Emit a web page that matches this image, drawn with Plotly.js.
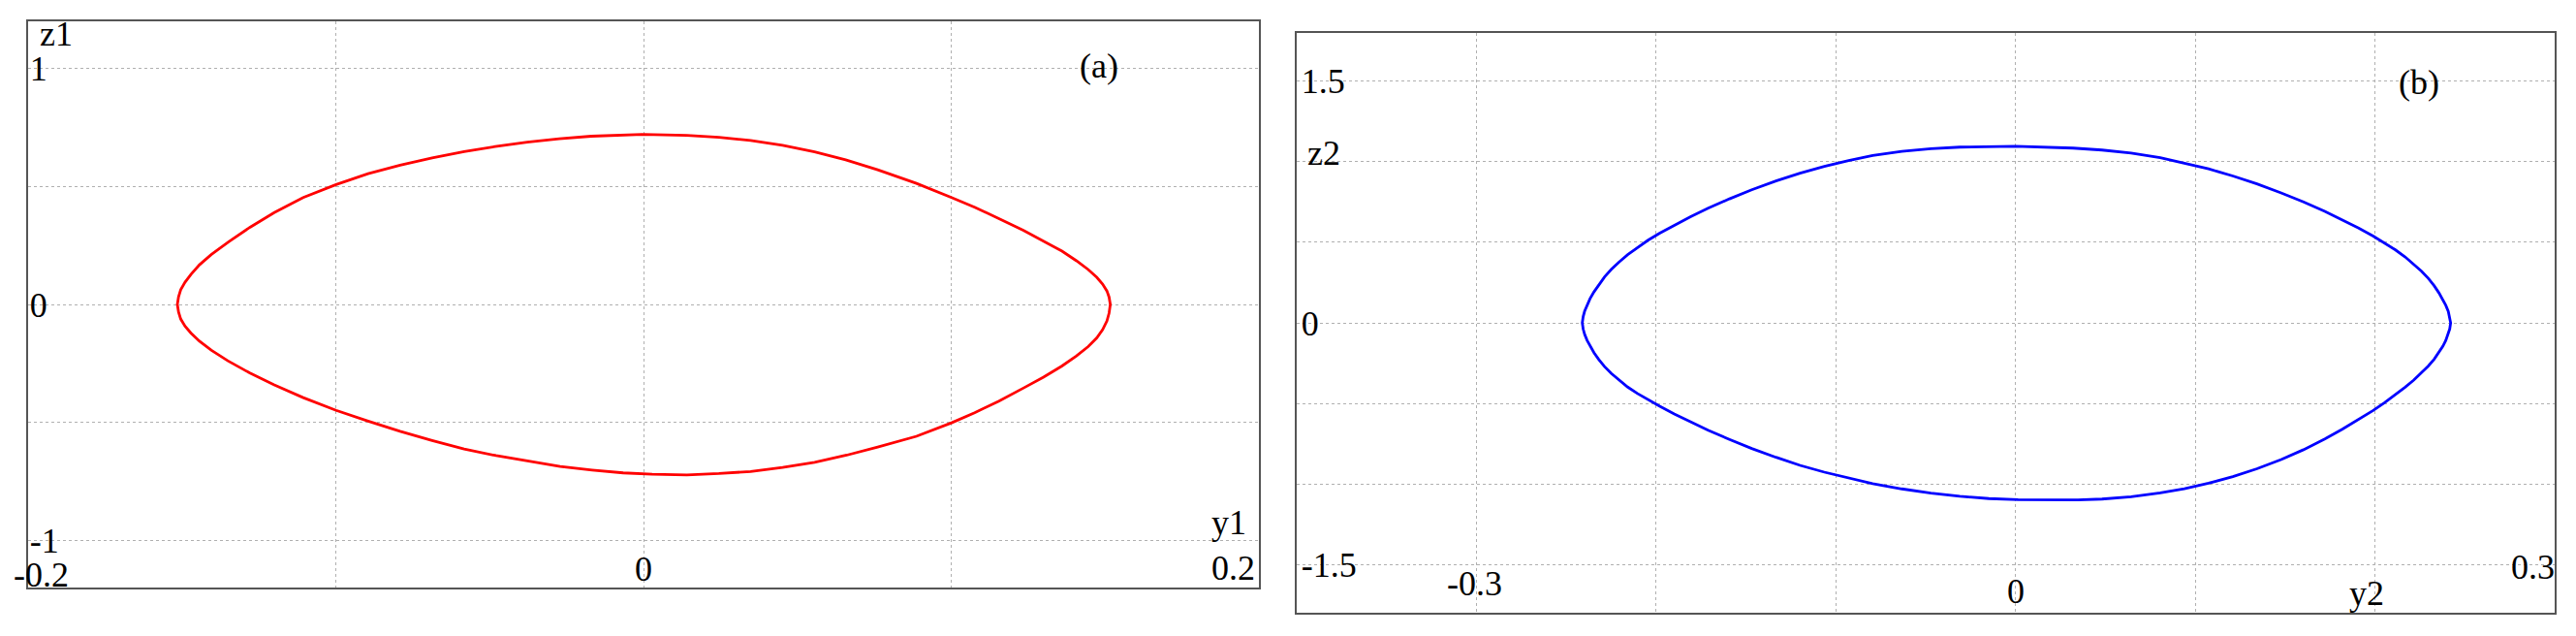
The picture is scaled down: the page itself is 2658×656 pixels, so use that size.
<!DOCTYPE html>
<html>
<head>
<meta charset="utf-8">
<script src="https://cdn.plot.ly/plotly-3.0.1.min.js"></script>
<style>
  html, body { margin: 0; padding: 0; background: #fff; }
  #chart { width: 2658px; height: 656px; }
</style>
</head>
<body>
<div id="chart"></div>
<script>
// phase trajectory (a): y1 / z1; closed loop from the top, anticlockwise
const y1_vals = [
  -0.0003, -0.0088, -0.0170, -0.0274, -0.0378, -0.0482, -0.0583, -0.0687, -0.0791, -0.0895, -0.0999,
  -0.1106, -0.1200, -0.1279, -0.1348, -0.1405, -0.1443, -0.1471, -0.1490, -0.1504, -0.1511, -0.1515,
  -0.1511, -0.1504, -0.1490, -0.1471, -0.1443, -0.1405, -0.1351, -0.1279, -0.1200, -0.1106, -0.0999,
  -0.0895, -0.0791, -0.0687, -0.0583, -0.0479, -0.0375, -0.0271, -0.0167, -0.0066, 0.0028, 0.0141,
  0.0245, 0.0348, 0.0452, 0.0556, 0.0660, 0.0761, 0.0887, 0.1001, 0.1076, 0.1155,
  0.1234, 0.1300, 0.1360, 0.1407, 0.1445, 0.1473, 0.1492, 0.1506, 0.1513, 0.1517,
  0.1513, 0.1506, 0.1492, 0.1473, 0.1445, 0.1407, 0.1360, 0.1300, 0.1234, 0.1155, 0.1076,
  0.1001, 0.0887, 0.0761, 0.0657, 0.0556, 0.0452, 0.0348, 0.0245, 0.0141, -0.0003];
const z1_vals = [
  0.721, 0.717, 0.713, 0.702, 0.688, 0.669, 0.648, 0.621, 0.590, 0.554, 0.508,
  0.453, 0.389, 0.327, 0.266, 0.211, 0.168, 0.127, 0.094, 0.062, 0.033, 0.000,
  -0.033, -0.062, -0.092, -0.121, -0.156, -0.194, -0.239, -0.291, -0.341, -0.395, -0.449,
  -0.495, -0.538, -0.577, -0.613, -0.641, -0.665, -0.687, -0.702, -0.714, -0.720, -0.723,
  -0.717, -0.708, -0.691, -0.669, -0.639, -0.605, -0.559, -0.502, -0.459, -0.410,
  -0.355, -0.308, -0.261, -0.218, -0.179, -0.142, -0.107, -0.070, -0.037, 0.000,
  0.031, 0.057, 0.086, 0.115, 0.148, 0.185, 0.226, 0.269, 0.314, 0.364, 0.412,
  0.453, 0.513, 0.571, 0.613, 0.647, 0.674, 0.695, 0.708, 0.717, 0.721];

// phase trajectory (b): y2 / z2
const y2_vals = [
  0.0000, -0.0148, -0.0310, -0.0471, -0.0633, -0.0795, -0.0929, -0.1064, -0.1199, -0.1333,
  -0.1468, -0.1592, -0.1711, -0.1808, -0.1899, -0.1980, -0.2045, -0.2104, -0.2158, -0.2206,
  -0.2249, -0.2287, -0.2319, -0.2346, -0.2368, -0.2384, -0.2398, -0.2406, -0.2411,
  -0.2406, -0.2398, -0.2384, -0.2368, -0.2346, -0.2319, -0.2287, -0.2249, -0.2206, -0.2158,
  -0.2104, -0.2045, -0.1980, -0.1899, -0.1808, -0.1711, -0.1592, -0.1468, -0.1333, -0.1199,
  -0.1064, -0.0929, -0.0795, -0.0633, -0.0471, -0.0310, -0.0148, 0.0014, 0.0225,
  0.0347, 0.0481, 0.0643, 0.0805, 0.0939, 0.1074, 0.1209, 0.1343, 0.1478, 0.1602,
  0.1721, 0.1818, 0.1909, 0.1990, 0.2055, 0.2114, 0.2168, 0.2216, 0.2259, 0.2297,
  0.2329, 0.2356, 0.2378, 0.2394, 0.2408, 0.2416, 0.2421,
  0.2416, 0.2408, 0.2394, 0.2378, 0.2356, 0.2329, 0.2297, 0.2259, 0.2216, 0.2168,
  0.2114, 0.2055, 0.1990, 0.1909, 0.1818, 0.1721, 0.1602, 0.1478, 0.1343, 0.1209,
  0.1074, 0.0939, 0.0805, 0.0643, 0.0481, 0.0320, 0.0158, 0.0000];
const z2_vals = [
  1.096, 1.095, 1.091, 1.081, 1.065, 1.039, 1.008, 0.972, 0.929, 0.881,
  0.826, 0.770, 0.712, 0.659, 0.607, 0.557, 0.513, 0.469, 0.424, 0.378,
  0.332, 0.285, 0.238, 0.192, 0.150, 0.112, 0.072, 0.039, 0.000,
  -0.038, -0.071, -0.109, -0.145, -0.185, -0.228, -0.272, -0.315, -0.357, -0.399,
  -0.439, -0.479, -0.518, -0.566, -0.617, -0.667, -0.724, -0.780, -0.835, -0.885,
  -0.927, -0.964, -0.998, -1.031, -1.057, -1.077, -1.091, -1.098, -1.100,
  -1.099, -1.094, -1.080, -1.056, -1.030, -0.996, -0.955, -0.906, -0.849, -0.788,
  -0.721, -0.661, -0.601, -0.544, -0.495, -0.447, -0.400, -0.355, -0.311, -0.268,
  -0.226, -0.184, -0.145, -0.109, -0.071, -0.038, 0.000,
  0.038, 0.071, 0.109, 0.145, 0.186, 0.231, 0.276, 0.321, 0.365, 0.409,
  0.453, 0.496, 0.539, 0.588, 0.640, 0.692, 0.751, 0.807, 0.863, 0.912,
  0.956, 0.993, 1.026, 1.054, 1.073, 1.085, 1.092, 1.096];

// tick labels
const z1_tickvals = [-1, -0.5, 0, 0.5, 1];
const z1_ticktext = ['-1', '', '0', '', '1'];
const z2_tickvals = [-1.5, -1, -0.5, 0, 0.5, 1, 1.5];
const z2_ticktext = ['-1.5', '', '', '0', '', '', '1.5'];
const y1_labels = ['-0.2', '0', '0.2'];
const y1_label_x = [-0.1956, 0, 0.1915];
const y1_label_z = [-1.145, -1.123, -1.119];
const y2_labels = ['-0.3', '0', '0.3'];
const y2_label_x = [-0.3012, 0, 0.2877];
const y2_label_z = [-1.62, -1.669, -1.515];

if (y1_vals.length !== z1_vals.length || y2_vals.length !== z2_vals.length) {
  console.log('length mismatch', y1_vals.length, z1_vals.length, y2_vals.length, z2_vals.length);
}

const W = 2658, H = 656;
const serif = 'Liberation Serif, Times New Roman, serif';
const txt = {family: serif, size: 36, color: '#000'};
const grid = {showgrid: true, gridcolor: '#b0b0b0', griddash: 'dot', gridwidth: 1,
  zeroline: false, showline: true, mirror: true, linecolor: '#555', linewidth: 2,
  ticks: '', fixedrange: true};

let traces = [
  {type: 'scatter', mode: 'lines', x: y1_vals, y: z1_vals, xaxis: 'x', yaxis: 'y',
   line: {color: '#ff0000', width: 2.8}, hoverinfo: 'skip'},
  {type: 'scatter', mode: 'lines', x: y2_vals, y: z2_vals, xaxis: 'x2', yaxis: 'y2',
   line: {color: '#0000ff', width: 2.8}, hoverinfo: 'skip'}
];

// x tick labels sit inside the frame at uneven heights, so they are annotations
let notes = [];
y1_labels.forEach((t, i) => notes.push({xref: 'x', yref: 'y', x: y1_label_x[i], y: y1_label_z[i],
  text: t, showarrow: false, font: txt}));
y2_labels.forEach((t, i) => notes.push({xref: 'x2', yref: 'y2', x: y2_label_x[i], y: y2_label_z[i],
  text: t, showarrow: false, font: txt}));

notes.push(
  {xref: 'x', yref: 'y', x: -0.197, y: 1.148, xanchor: 'left', text: 'z1', showarrow: false, font: txt},
  {xref: 'x', yref: 'y', x: 0.1902, y: -0.926, text: 'y1', showarrow: false, font: txt},
  {xref: 'x', yref: 'y', x: 0.148, y: 1.012, text: '(a)', showarrow: false, font: txt},
  {xref: 'x2', yref: 'y2', x: -0.3847, y: 1.056, text: 'z2', showarrow: false, font: txt},
  {xref: 'x2', yref: 'y2', x: 0.1956, y: -1.681, text: 'y2', showarrow: false, font: txt},
  {xref: 'x2', yref: 'y2', x: 0.2247, y: 1.494, text: '(b)', showarrow: false, font: txt}
);

let layout = {
  width: W, height: H,
  margin: {l: 0, r: 0, t: 0, b: 0},
  paper_bgcolor: '#fff', plot_bgcolor: '#fff',
  showlegend: false,
  font: txt,
  xaxis: Object.assign({}, grid, {domain: [29 / W, 1299 / W], range: [-0.2, 0.2],
    tick0: 0, dtick: 0.1, showticklabels: false, anchor: 'y'}),
  yaxis: Object.assign({}, grid, {domain: [(H - 606) / H, (H - 22) / H], range: [-1.2, 1.2],
    tickmode: 'array', tickvals: z1_tickvals, ticktext: z1_ticktext,
    ticklabelposition: 'inside', ticklabelstandoff: 6, tickfont: txt, anchor: 'x'}),
  xaxis2: Object.assign({}, grid, {domain: [1338 / W, 2636 / W], range: [-0.4, 0.3],
    tick0: 0, dtick: 0.1, showticklabels: false, anchor: 'y2'}),
  yaxis2: Object.assign({}, grid, {domain: [(H - 632) / H, (H - 34) / H], range: [-1.8, 1.8],
    tickmode: 'array', tickvals: z2_tickvals, ticktext: z2_ticktext,
    ticklabelposition: 'inside', ticklabelstandoff: 9, tickfont: txt, anchor: 'x2'}),
  annotations: notes
};

Plotly.newPlot('chart', traces, layout, {displayModeBar: false, staticPlot: true});
</script>
</body>
</html>
